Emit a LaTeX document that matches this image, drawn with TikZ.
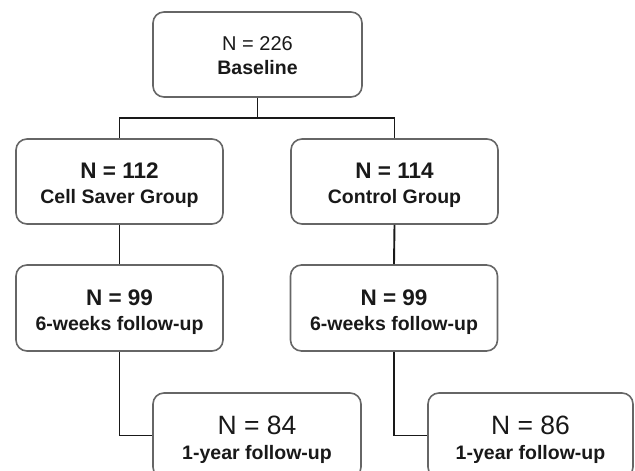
\documentclass[tikz,border=0pt]{standalone}
\usepackage{fontspec}
\setmainfont{Liberation Sans}
\begin{document}
\begin{tikzpicture}[x=1pt,y=-1pt,
  box/.style={draw=black!60,line width=1.6pt,rounded corners=11pt,fill=white,inner sep=0pt},
  conn/.style={draw=black!90,line width=1.9pt},
  txt/.style={inner sep=0pt,anchor=base,text=black!90}]
\useasboundingbox (0,0) rectangle (635,471);
\clip (0,0) rectangle (635,471);
% boxes
\node[box,minimum width=209pt,minimum height=85pt] (base) at (257.5,54.5) {};
\node[box,minimum width=207pt,minimum height=85pt] (cs) at (119.5,181.5) {};
\node[box,minimum width=207pt,minimum height=85pt] (ctl) at (394.5,181.5) {};
\node[box,minimum width=207pt,minimum height=86pt] (w1) at (119.5,308) {};
\node[box,minimum width=207pt,minimum height=86pt] (w2) at (394,308) {};
\node[box,minimum width=208pt,minimum height=85pt] (y1) at (257,435.5) {};
\node[box,minimum width=205pt,minimum height=85pt] (y2) at (530.5,435.5) {};
% texts
\node[txt,font=\fontsize{20}{24}\selectfont] (t0a) at (257.5,50) {N = 226};
\node[txt,font=\fontsize{19.5}{24}\selectfont\bfseries] (t0b) at (257.5,74) {Baseline};
\node[txt,font=\fontsize{22.5}{26}\selectfont\bfseries] (t1a) at (119.5,178) {N = 112};
\node[txt,font=\fontsize{19.5}{24}\selectfont\bfseries] (t1b) at (119.5,203) {Cell Saver Group};
\node[txt,font=\fontsize{22.5}{26}\selectfont\bfseries] (t2a) at (394.5,178) {N = 114};
\node[txt,font=\fontsize{19.5}{24}\selectfont\bfseries] (t2b) at (394.5,203) {Control Group};
\node[txt,font=\fontsize{22.5}{26}\selectfont\bfseries] (t3a) at (119.5,305) {N = 99};
\node[txt,font=\fontsize{19.5}{24}\selectfont\bfseries] (t3b) at (119.5,330) {6-weeks follow-up};
\node[txt,font=\fontsize{22.5}{26}\selectfont\bfseries] (t4a) at (394,305) {N = 99};
\node[txt,font=\fontsize{19.5}{24}\selectfont\bfseries] (t4b) at (394,330) {6-weeks follow-up};
\node[txt,font=\fontsize{26.5}{30}\selectfont] (t5a) at (257,434.5) {N = 84};
\node[txt,font=\fontsize{19.5}{24}\selectfont\bfseries] (t5b) at (257,459) {1-year follow-up};
\node[txt,font=\fontsize{26.5}{30}\selectfont] (t6a) at (530.5,434.5) {N = 86};
\node[txt,font=\fontsize{19.5}{24}\selectfont\bfseries] (t6b) at (530.5,459) {1-year follow-up};
% connectors
\coordinate (j) at (257.5,118);
\draw[conn] (base.south) -- (j);
\draw[conn] (j) -| (cs.north);
\draw[conn] (j) -| (ctl.north);
\draw[conn] (cs.south) -- (w1.north);
\draw[conn] (ctl.south) -- (w2.north);
\draw[conn] (w1.south) |- (y1.west);
\draw[conn] (w2.south) |- (y2.west);
\end{tikzpicture}
\end{document}
